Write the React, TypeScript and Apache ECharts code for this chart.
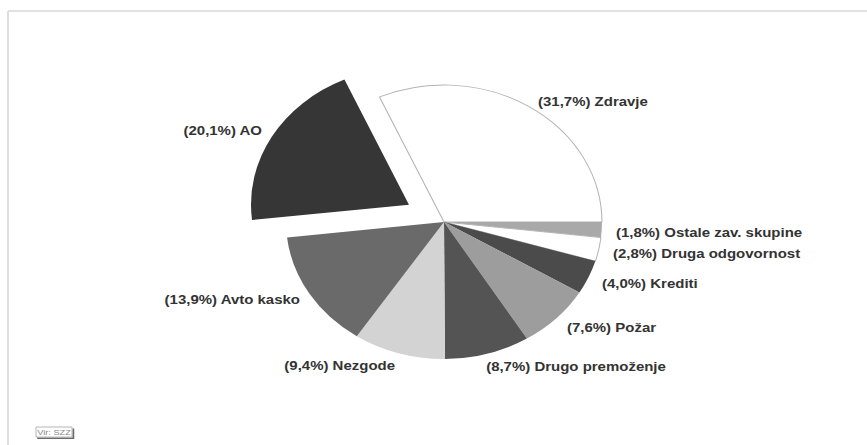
import React, { useEffect, useRef } from "react";
import * as echarts from "echarts";

// ---- data ----
const categories = [
  "Zdravje",
  "Ostale zav. skupine",
  "Druga odgovornost",
  "Krediti",
  "Požar",
  "Drugo premoženje",
  "Nezgode",
  "Avto kasko",
  "AO",
];
const shares = [31.7, 1.8, 2.8, 4.0, 7.6, 8.7, 9.4, 13.9, 20.1];
const sliceColors = [
  "#ffffff",
  "#a9a9a9",
  "#ffffff",
  "#4b4b4b",
  "#9d9d9d",
  "#545454",
  "#d3d3d3",
  "#6a6a6a",
  "#363636",
];
const explodedCategory = "AO";
const sourceNote = "Vir: SZZ";

// ---- layout (chart is drawn in a narrower box and stretched horizontally) ----
const STRETCH = 1.153;
const W = 867;
const H = 445;
const IW = W / STRETCH;
const sx = (px: number) => px / STRETCH;
const START_ANGLE = 114.1;
const EXPLODE = 35;

const LABEL_POS: { x: number; y: number; align: "left" | "right" | "center" }[] = [
  { x: sx(538), y: 101, align: "left" },
  { x: sx(616), y: 232, align: "left" },
  { x: sx(613), y: 253, align: "left" },
  { x: sx(602), y: 283, align: "left" },
  { x: sx(567), y: 327, align: "left" },
  { x: sx(576), y: 366, align: "center" },
  { x: sx(395), y: 365, align: "right" },
  { x: sx(300), y: 299, align: "right" },
  { x: sx(262), y: 130, align: "right" },
];

const fmt = (v: number) => v.toFixed(1).replace(".", ",");

export default function App() {
  const ref = useRef<HTMLDivElement>(null);

  useEffect(() => {
    if (!ref.current) return;
    const chart = echarts.init(ref.current, null, { renderer: "svg" });

    const total = shares.reduce((a, b) => a + b, 0);
    const exIdx = categories.indexOf(explodedCategory);
    const before = shares.slice(0, exIdx).reduce((a, b) => a + b, 0);
    const midDeg = START_ANGLE - ((before + shares[exIdx] / 2) / total) * 360;
    const midRad = (midDeg * Math.PI) / 180;
    const cx = sx(444);
    const cy = 222;
    const exCenter = [cx + EXPLODE * Math.cos(midRad), cy - EXPLODE * Math.sin(midRad)];

    const styleFor = (i: number, visible: boolean) =>
      visible
        ? {
            color: sliceColors[i],
            borderColor: sliceColors[i] === "#ffffff" ? "#b3b3b3" : sliceColors[i],
            borderWidth: sliceColors[i] === "#ffffff" ? 0.9 : 0,
          }
        : { color: "rgba(0,0,0,0)", borderWidth: 0 };

    const mainData = categories.map((name, i) => ({
      name,
      value: shares[i],
      itemStyle: styleFor(i, i !== exIdx),
    }));
    const exData = categories.map((name, i) => ({
      name,
      value: shares[i],
      itemStyle: styleFor(i, i === exIdx),
    }));

    const boxX = sx(36);
    const boxW = sx(72) - sx(36);

    const common = {
      type: "pie",
      silent: true,
      radius: [0, 137],
      startAngle: START_ANGLE,
      clockwise: true,
      avoidLabelOverlap: false,
      emphasis: { disabled: true },
    };

    chart.setOption({
      animation: false,
      backgroundColor: "#ffffff",
      graphic: [
        {
          type: "line",
          shape: { x1: sx(8), y1: 11, x2: IW, y2: 11 },
          style: { stroke: "#d9d9d9", lineWidth: 1.5 },
          silent: true,
        },
        {
          type: "line",
          shape: { x1: sx(8), y1: 11, x2: sx(8), y2: H },
          style: { stroke: "#d9d9d9", lineWidth: 1.5 },
          silent: true,
        },
        {
          type: "polyline",
          shape: {
            points: [
              [boxX + boxW + 1.2, 428.5],
              [boxX + boxW + 1.2, 438.2],
              [boxX + 1, 438.2],
            ],
          },
          style: { stroke: "#6a6a6a", lineWidth: 1.5, fill: null },
          silent: true,
        },
        {
          type: "rect",
          shape: { x: boxX, y: 427, width: boxW, height: 10 },
          style: { fill: "#ffffff", stroke: "#aaaaaa", lineWidth: 0.8 },
          silent: true,
        },
        {
          type: "text",
          x: boxX + boxW / 2,
          y: 432.3,
          style: {
            text: sourceNote,
            fill: "#8a8a8a",
            font: "8px 'Liberation Sans', Arial, sans-serif",
            align: "center",
            verticalAlign: "middle",
          },
          silent: true,
        },
      ],
      series: [
        {
          ...common,
          center: [cx, cy],
          label: {
            show: true,
            position: "outside",
            color: "#333333",
            fontFamily: "'Liberation Sans', Arial, sans-serif",
            fontWeight: "bold",
            fontSize: 13,
            formatter: (p: any) => `(${fmt(p.value)}%) ${p.name}`,
          },
          labelLine: { show: false },
          labelLayout: (params: any) => {
            const p = LABEL_POS[params.dataIndex];
            return { x: p.x, y: p.y, align: p.align, verticalAlign: "middle" };
          },
          data: mainData,
        },
        {
          ...common,
          center: exCenter,
          label: { show: false },
          labelLine: { show: false },
          data: exData,
        },
      ],
    });
    return () => chart.dispose();
  }, []);

  return (
    <div
      style={{
        position: "fixed",
        left: 0,
        top: 0,
        width: W,
        height: H,
        overflow: "hidden",
        background: "#ffffff",
      }}
    >
      <div
        ref={ref}
        style={{
          width: IW,
          height: H,
          transform: `scaleX(${STRETCH})`,
          transformOrigin: "0 0",
        }}
      />
    </div>
  );
}
